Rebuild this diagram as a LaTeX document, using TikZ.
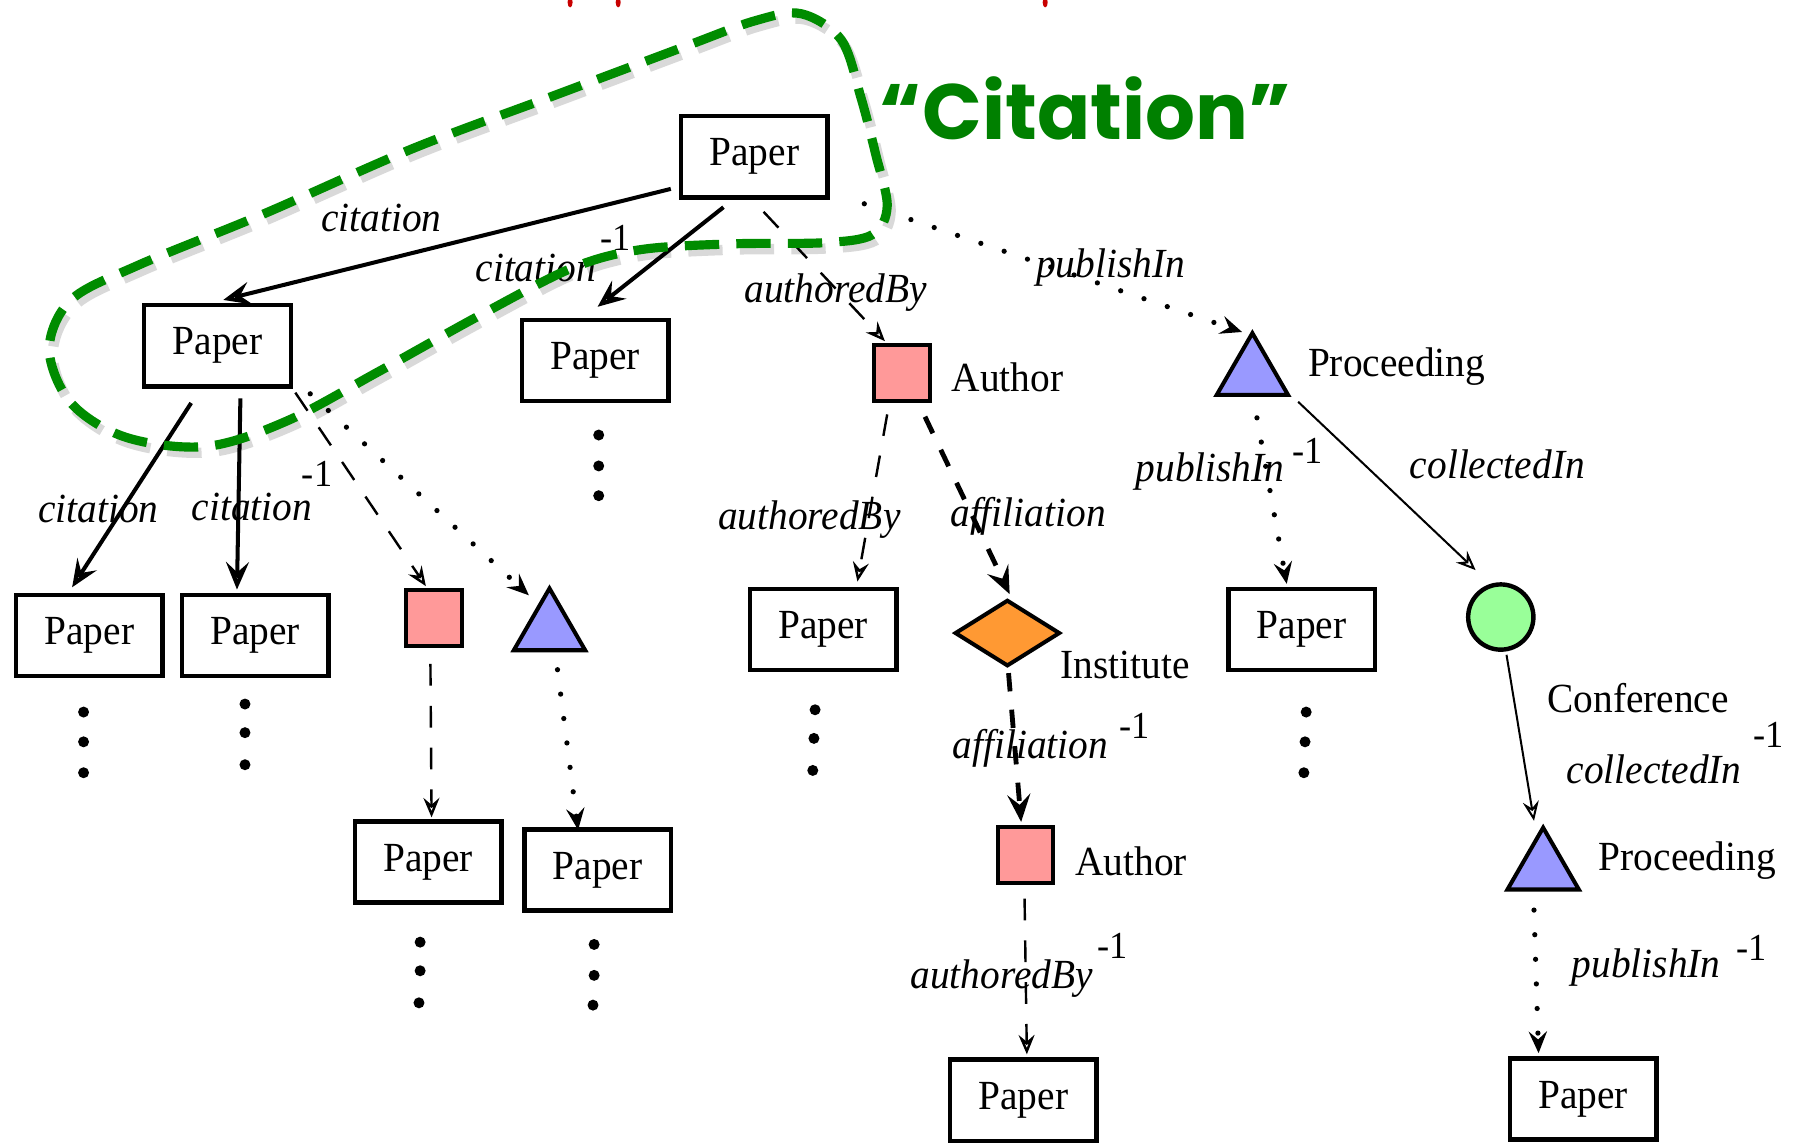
\documentclass[tikz,border=0pt]{standalone}
\usepackage{fontspec}
\setmainfont{Liberation Serif}[FakeStretch=0.95]
\newfontfamily\citefont{Poppins}
\usetikzlibrary{arrows.meta,shapes.geometric,calc}
\definecolor{pinkfill}{RGB}{255,153,153}
\definecolor{bluefill}{RGB}{153,153,255}
\definecolor{orangefill}{RGB}{255,153,51}
\definecolor{confgreen}{RGB}{153,255,153}
\definecolor{loopgreen}{RGB}{0,140,0}
\definecolor{citegreen}{RGB}{0,128,0}
\definecolor{redmark}{RGB}{200,0,0}
\begin{document}
\begin{tikzpicture}[x=0.1mm,y=-0.1mm,font=\fontsize{10.3}{12}\selectfont,
  papernode/.style={draw,rectangle,line width=1.1pt,minimum width=12.8mm,minimum height=7.1mm,inner sep=0pt,fill=white},
  authornode/.style={draw,rectangle,line width=1pt,fill=pinkfill,minimum size=4.85mm,inner sep=0pt},
  procnode/.style={draw,regular polygon,regular polygon sides=3,line width=1pt,fill=bluefill,minimum size=7.2mm,inner sep=0pt},
  instnode/.style={draw,diamond,line width=1pt,fill=orangefill,minimum width=9.2mm,minimum height=5.8mm,inner sep=0pt},
  confnode/.style={draw,circle,line width=1.1pt,fill=confgreen,minimum size=5.7mm,inner sep=0pt},
  lab/.style={font=\fontsize{10.3}{12}\selectfont\itshape,inner sep=0pt},
  inv/.style={font=\fontsize{9.5}{11}\selectfont,inner sep=0pt},
  typelabel/.style={inner sep=0pt},
  tipbig/.style={-{Stealth[length=2.4mm,width=2mm,inset=0.9mm,open]}},
  tipsmall/.style={-{Stealth[length=1.7mm,width=1.4mm,inset=0.6mm,open]}},
  citearrow/.style={line width=1pt,tipbig},
  collarrow/.style={line width=0.5pt,tipsmall},
  authdash/.style={line width=0.6pt,dash pattern=on 1.9mm off 1.75mm,tipsmall},
  affdash/.style={line width=1.2pt,dash pattern=on 1.6mm off 1.6mm,tipbig},
  pubdot/.style={line width=1.3pt,line cap=round,dash pattern=on 0pt off 2.15mm,-{Stealth[length=1.9mm,width=1.6mm,inset=0.7mm]}},
  loopline/.style={draw=loopgreen,line width=0.8mm,dash pattern=on 3mm off 1.5mm},
  dotfill/.style={fill=black}
]
\useasboundingbox (0,0) rectangle (1568,1000);

% red marks of the clipped title
\fill[redmark] (498,2) ellipse (2.2 and 4.5);
\fill[redmark] (540,2) ellipse (2.2 and 4.5);
\fill[redmark] (913,2) ellipse (2.2 and 4.5);

% green loop shadow
\draw[gray!30,line width=0.9mm,dash pattern=on 3mm off 1.5mm,shift={(3,5)}] plot[smooth cycle,tension=0.55] coordinates {(700,12) (735,35) (752,85) (765,135) (775,180) (762,205) (720,212) (640,213) (560,218) (500,234) (420,275) (330,325) (250,368) (180,390) (110,382) (62,352) (43,305) (62,262) (120,232) (230,187) (360,130) (480,85) (600,40) (660,18)};

% nodes
\node[papernode] (p0) at (659,137) {Paper};
\node[papernode] (p1) at (190,302) {Paper};
\node[papernode] (p2) at (520,315) {Paper};
\node[papernode] (p3) at (78,555) {Paper};
\node[papernode] (p4) at (223,555) {Paper};
\node[authornode] (a1) at (379,540) {};
\node[procnode] (t1) at (480,550) {};
\node[papernode] (p5) at (374,753) {Paper};
\node[papernode] (p6) at (522,760) {Paper};
\node[authornode] (a2) at (788,326) {};
\node[papernode] (p7) at (719,550) {Paper};
\node[instnode] (d1) at (880,553) {};
\node[authornode] (a3) at (896,747) {};
\node[papernode] (p8) at (894,961) {Paper};
\node[procnode] (t2) at (1094,327) {};
\node[papernode] (p9) at (1137,550) {Paper};
\node[confnode] (c1) at (1311,539) {};
\node[procnode] (t3) at (1348,759) {};
\node[papernode] (p10) at (1383,960) {Paper};

% node type names
\node[typelabel] (n1) at (880,330) {Author};
\node[typelabel] (n2) at (1220,320) {Proceeding};
\node[typelabel] (n3) at (983,581) {Institute};
\node[typelabel] (n4) at (988,752) {Author};
\node[typelabel] (n5) at (1474,752) {Proceeding};
\node[typelabel] (n6) at (1431,610) {Conference};

% edges
\draw[citearrow] ([shift={(-73,28)}]p0.center) -- ([shift={(5,-40)}]p1.center);
\draw[citearrow] ([shift={(-27,44)}]p0.center) -- ([shift={(2,-47)}]p2.center);
\draw[authdash] ([shift={(8,48)}]p0.center) -- ([shift={(-15,-28)}]a2.center);
\draw[pubdot] ([shift={(96,41)}]p0.center) -- ([shift={(-9,-37)}]t2.center);
\draw[citearrow] ([shift={(-23,50)}]p1.center) -- ([shift={(-15,-42)}]p3.center);
\draw[citearrow] ([shift={(20,46)}]p1.center) -- ([shift={(-16,-40)}]p4.center);
\draw[authdash] ([shift={(68,41)}]p1.center) -- ([shift={(-7,-28)}]a1.center);
\draw[pubdot] ([shift={(81,42)}]p1.center) -- ([shift={(-18,-30)}]t1.center);
\draw[authdash] ([shift={(-3,40)}]a1.center) -- ([shift={(3,-39)}]p5.center);
\draw[pubdot] ([shift={(7,35)}]t1.center) -- ([shift={(-17,-35)}]p6.center);
\draw[authdash] ([shift={(-13,36)}]a2.center) -- ([shift={(30,-42)}]p7.center);
\draw[affdash] ([shift={(20,38)}]a2.center) -- ([shift={(2,-34)}]d1.center);
\draw[affdash] ([shift={(1,35)}]d1.center) -- ([shift={(-4,-29)}]a3.center);
\draw[authdash] ([shift={(-1,38)}]a3.center) -- ([shift={(3,-40)}]p8.center);
\draw[pubdot] ([shift={(4,38)}]t2.center) -- ([shift={(-13,-40)}]p9.center);
\draw[collarrow] ([shift={(40,24)}]t2.center) -- ([shift={(-22,-41)}]c1.center);
\draw[collarrow] ([shift={(5,33)}]c1.center) -- ([shift={(-8,-42)}]t3.center);
\draw[pubdot] ([shift={(-8,36)}]t3.center) -- ([shift={(-39,-40)}]p10.center);

% edge labels
\node[lab] (l1) at (333,190) {citation};
\node[lab] (l2) at (468,234) {citation};
\node[inv] (s2) at (538,208) {-1};
\node[lab] (l3) at (730,256) {authoredBy};
\node[lab] (l4) at (970,234) {publishIn};
\node[lab] (l5) at (86,445) {citation};
\node[lab] (l6) at (220,443) {citation};
\node[inv] (s6) at (277,414) {-1};
\node[lab] (l7) at (707,454) {authoredBy};
\node[lab] (l8) at (898,451) {affiliation};
\node[lab] (l9) at (900,654) {affiliation};
\node[inv] (s9) at (991,634) {-1};
\node[lab] (l10) at (875,855) {authoredBy};
\node[inv] (s10) at (972,826) {-1};
\node[lab] (l11) at (1057,412) {publishIn};
\node[inv] (s11) at (1142,394) {-1};
\node[lab] (l12) at (1308,406) {collectedIn};
\node[lab] (l13) at (1445,672) {collectedIn};
\node[inv] (s13) at (1545,642) {-1};
\node[lab] (l14) at (1438,845) {publishIn};
\node[inv] (s14) at (1530,828) {-1};

% continuation dots
\foreach \x/\y in {523/380,523/407,523/433, 73/622,73/648,73/675, 214/615,214/640,214/668,
  367/823,367/848,366/876, 519/825,519/852,518/878, 712/620,711/645,710/673, 1141/622,1140/648,1139/675}
  \fill[dotfill] (\x,\y) circle (4.8);

% green loop
\draw[loopline] plot[smooth cycle,tension=0.55] coordinates {(700,12) (735,35) (752,85) (765,135) (775,180) (762,205) (720,212) (640,213) (560,218) (500,234) (420,275) (330,325) (250,368) (180,390) (110,382) (62,352) (43,305) (62,262) (120,232) (230,187) (360,130) (480,85) (600,40) (660,18)};

\node[text=citegreen,font=\citefont\bfseries\fontsize{19.5}{22}\selectfont,inner sep=0pt] (cite) at (948,95) {“Citation”};
\end{tikzpicture}
\end{document}
